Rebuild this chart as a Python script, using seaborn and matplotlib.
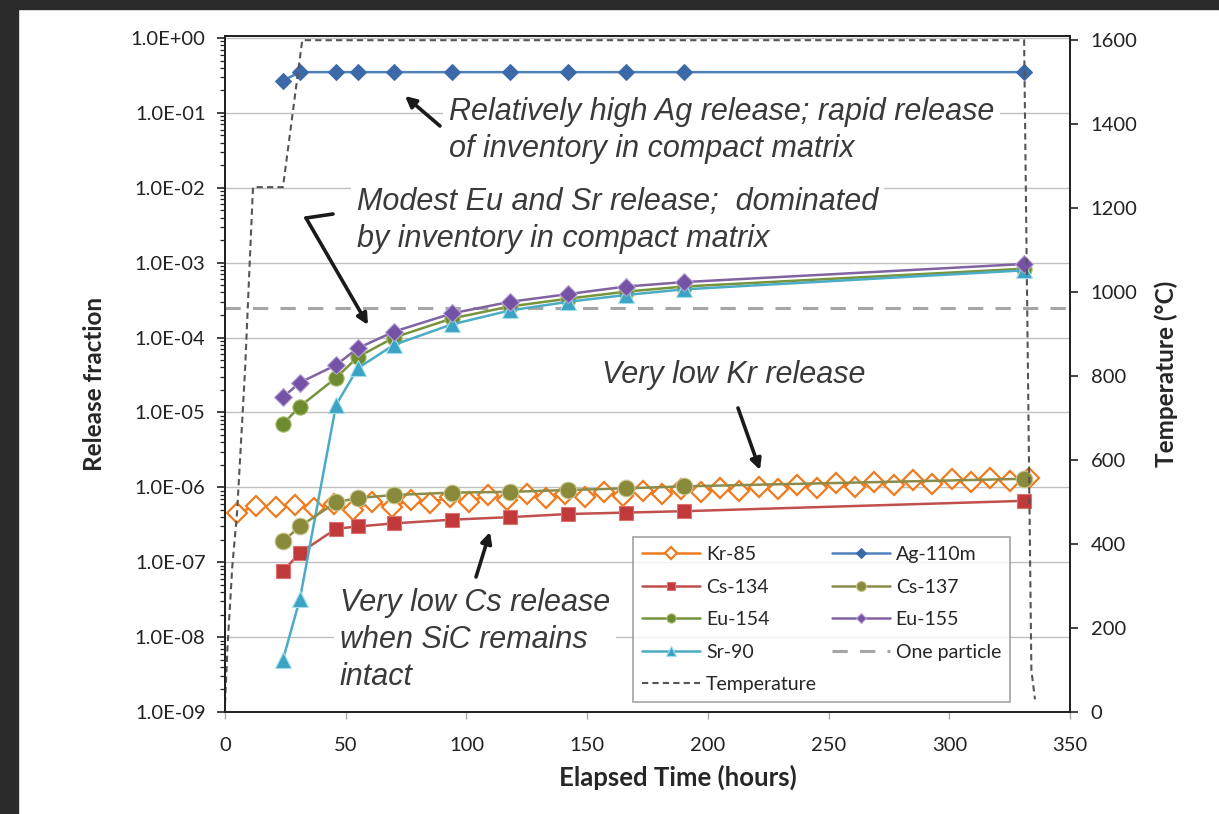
import numpy as np
import matplotlib
matplotlib.use("Agg")
import matplotlib.pyplot as plt
import seaborn as sns
from matplotlib.ticker import FuncFormatter, LogLocator, NullFormatter
from matplotlib.patches import Rectangle

# sample times (hours) for the gamma-counted isotopes
sample_t = [24, 31, 46, 55, 70, 94, 118, 142, 166, 190, 331]

ag110m = [2.7e-1, 3.5e-1, 3.5e-1, 3.5e-1, 3.5e-1, 3.5e-1, 3.5e-1, 3.5e-1, 3.5e-1, 3.5e-1, 3.5e-1]
cs134 = [7.6e-8, 1.33e-7, 2.8e-7, 3.0e-7, 3.3e-7, 3.7e-7, 4.0e-7, 4.4e-7, 4.6e-7, 4.8e-7, 6.6e-7]
cs137 = [1.9e-7, 3.0e-7, 6.3e-7, 7.2e-7, 7.9e-7, 8.5e-7, 8.7e-7, 9.2e-7, 9.7e-7, 1.03e-6, 1.3e-6]
eu154 = [7.0e-6, 1.2e-5, 2.9e-5, 5.5e-5, 1.0e-4, 1.8e-4, 2.6e-4, 3.3e-4, 4.1e-4, 4.8e-4, 8.3e-4]
eu155 = [1.6e-5, 2.5e-5, 4.3e-5, 7.2e-5, 1.2e-4, 2.1e-4, 3.0e-4, 3.8e-4, 4.8e-4, 5.5e-4, 9.6e-4]
sr90 = [5.0e-9, 3.2e-8, 1.26e-5, 3.9e-5, 8.0e-5, 1.5e-4, 2.3e-4, 3.0e-4, 3.7e-4, 4.4e-4, 7.9e-4]

# Kr-85 measured on-line every ~8 h
kr_t = [5, 13, 21, 29, 37, 45, 53, 61, 69, 77, 85, 93, 101, 109, 117, 125, 133, 141,
        149, 157, 165, 173, 181, 189, 197, 205, 213, 221, 229, 237, 245, 253, 261, 269,
        277, 285, 293, 301, 309, 317, 325, 333]
kr85 = [4.55e-7, 5.65e-7, 5.47e-7, 5.82e-7, 5.31e-7, 6.0e-7, 4.99e-7, 6.38e-7, 5.47e-7,
        6.79e-7, 6.19e-7, 7.45e-7, 6.38e-7, 7.92e-7, 6.79e-7, 8.17e-7, 7.22e-7, 8.17e-7,
        7.45e-7, 8.69e-7, 7.68e-7, 8.95e-7, 8.17e-7, 9.52e-7, 8.69e-7, 9.82e-7, 8.95e-7,
        1.01e-6, 9.52e-7, 1.08e-6, 9.82e-7, 1.15e-6, 1.01e-6, 1.18e-6, 1.08e-6, 1.26e-6,
        1.11e-6, 1.29e-6, 1.18e-6, 1.34e-6, 1.22e-6, 1.34e-6]

one_particle = 2.5e-4

temp_t = [0, 1, 3, 5, 8.3, 11.6, 24, 32, 331, 334, 335.5]
temp_c = [20, 150, 345, 475, 814, 1250, 1250, 1600, 1600, 100, 30]

W, H = 1219, 814
fig = plt.figure(figsize=(W / 100, H / 100), dpi=100)
sns.set_style("white")
plt.rcParams['font.family'] = ['Lato', 'DejaVu Sans']

ax = fig.add_axes([225 / W, 1 - 712 / H, (1070 - 225) / W, (712 - 36) / H])
ax2 = ax.twinx()

lw = 1.8
sns.lineplot(x=kr_t, y=kr85, ax=ax, color="#F07B1E", lw=lw, marker="D", markersize=10,
             markerfacecolor="white", markeredgecolor="#F07B1E", markeredgewidth=1.6,
             label="Kr-85", estimator=None, sort=False, zorder=4)
sns.lineplot(x=sample_t, y=cs134, ax=ax, color="#C0504D", lw=lw, marker="s", markersize=10,
             markerfacecolor="#C0393B", markeredgecolor="#E07070", markeredgewidth=0.8,
             label="Cs-134", estimator=None, sort=False, zorder=5)
sns.lineplot(x=sample_t, y=eu154, ax=ax, color="#77933C", lw=lw, marker="o", markersize=11,
             markerfacecolor="#6E8B30", markeredgecolor="#A8C070", markeredgewidth=0.8,
             label="Eu-154", estimator=None, sort=False, zorder=5)
sns.lineplot(x=sample_t, y=sr90, ax=ax, color="#4BACC6", lw=lw, marker="^", markersize=11,
             markerfacecolor="#3BA3C4", markeredgecolor="#A6DDEB", markeredgewidth=0.8,
             label="Sr-90", estimator=None, sort=False, zorder=5)
sns.lineplot(x=sample_t, y=ag110m, ax=ax, color="#4F81BD", lw=lw, marker="D", markersize=8,
             markerfacecolor="#3C69A8", markeredgecolor="#3C69A8",
             label="Ag-110m", estimator=None, sort=False, zorder=5)
sns.lineplot(x=sample_t, y=cs137, ax=ax, color="#8C8C4A", lw=lw, marker="o", markersize=12,
             markerfacecolor="#8A8A3C", markeredgecolor="#C8C890", markeredgewidth=0.8,
             label="Cs-137", estimator=None, sort=False, zorder=6)
sns.lineplot(x=sample_t, y=eu155, ax=ax, color="#8064A2", lw=lw, marker="D", markersize=9,
             markerfacecolor="#7452A6", markeredgecolor="#B7A4D0", markeredgewidth=0.8,
             label="Eu-155", estimator=None, sort=False, zorder=5)
ax.axhline(one_particle, color="#A6A6A6", lw=2.2, ls=(0, (5, 4)), label="One particle", zorder=3)

sns.lineplot(x=temp_t, y=temp_c, ax=ax2, color="#555555", lw=1.5, label="Temperature",
             estimator=None, sort=False)
ax2.get_lines()[-1].set_linestyle((0, (3, 2)))

for a in (ax, ax2):
    if a.get_legend() is not None:
        a.get_legend().remove()

ax.set_yscale("log")
ax.set_ylim(1e-9, 1.0e0 * 10 ** (2 / 74.9))
ax.set_xlim(0, 350)
ax2.set_ylim(0, 1610)
ax.set_xticks(range(0, 351, 50))
ax2.set_yticks(range(0, 1601, 200))
ax.yaxis.set_major_locator(LogLocator(base=10, numticks=12))
ax.yaxis.set_minor_locator(LogLocator(base=10, subs=np.arange(2, 10), numticks=12))
ax.yaxis.set_minor_formatter(NullFormatter())
ax.yaxis.set_major_formatter(FuncFormatter(lambda v, p: f"{v:.1E}"))
ax.grid(axis="y", which="major", color="#C0C0C0", lw=1.0)
ax.grid(axis="x", visible=False)
ax.set_axisbelow(True)

tick_kw = dict(labelsize=14.5, colors="#222222", direction="out")
ax.tick_params(axis="y", which="major", length=6, width=1.2, pad=8, left=True, **tick_kw)
ax.tick_params(axis="y", which="minor", length=3.5, width=0.9, left=True, color="#222222")
ax.tick_params(axis="x", length=5, width=1, pad=13, bottom=True, color="#aaaaaa",
               labelsize=14.5, labelcolor="#222222")
ax2.tick_params(axis="y", length=6, width=1.2, pad=9, right=True, **tick_kw)

for a in (ax, ax2):
    for s in a.spines.values():
        s.set_color("#222222")
        s.set_linewidth(1.4)
ax.spines["bottom"].set_color("#888888")

ax.set_ylabel("Release fraction", fontsize=17.5, fontweight="bold")
ax.set_xlabel("Elapsed Time (hours)", fontsize=18.5, fontweight="bold")
ax2.set_ylabel("Temperature (\u00b0C)", fontsize=17.5, fontweight="bold", labelpad=12)
ax.yaxis.set_label_coords((106 - 225) / 845, (712 - 384) / 676)
ax.xaxis.set_label_coords((678 - 225) / 845, -(765 - 712) / 676)

# annotations
ann = dict(fontsize=22, style="italic", color="#3a3a3a", family=["Liberation Sans", "DejaVu Sans"],
           ha="left", va="top", linespacing=1.3,
           bbox=dict(boxstyle="square,pad=0.2", fc="white", ec="none"))
arrow = dict(arrowstyle="-|>", color="#1a1a1a", lw=2.6, mutation_scale=16, shrinkA=0, shrinkB=0)


def px(x, y):
    # convert reference pixel position into data coordinates of ax
    return ax.transData.inverted().transform(fig.transFigure.transform((x / W, 1 - y / H)))


ax.annotate("", xy=px(405, 96), xytext=px(440, 126), arrowprops=arrow, zorder=8)
ax.text(*px(449, 97), "Relatively high Ag release; rapid release\nof inventory in compact matrix",
        zorder=2, **ann)

ax.annotate("", xy=px(368, 325), xytext=px(306, 218), arrowprops=arrow, zorder=8)
ax.plot(*zip(px(333, 214), px(306, 218)), color="#1a1a1a", lw=2.6, zorder=8)
ax.text(*px(357, 187), "Modest Eu and Sr release;  dominated\nby inventory in compact matrix",
        zorder=2, **ann)

ax.text(*px(602, 360), "Very low Kr release", zorder=2, **ann)
ax.annotate("", xy=px(760, 470), xytext=px(738, 408), arrowprops=arrow, zorder=8)

ax.text(*px(340, 588), "Very low Cs release\nwhen SiC remains\nintact", zorder=2, **ann)
ax.annotate("", xy=px(490, 532), xytext=px(476, 577), arrowprops=arrow, zorder=8)

# legend: two columns, Temperature at the end of the first one
h1, l1 = ax.get_legend_handles_labels()
h2, l2 = ax2.get_legend_handles_labels()
hd = dict(zip(l1 + l2, h1 + h2))
order = ["Kr-85", "Cs-134", "Eu-154", "Sr-90", "Temperature",
         "Ag-110m", "Cs-137", "Eu-155", "One particle"]
leg = ax2.legend([hd[k] for k in order], order, ncol=2, loc="lower left",
                 bbox_to_anchor=((633 - 225) / 845, (712 - 702) / 676),
                 fontsize=14, frameon=True, fancybox=False, handlelength=3.0,
                 handletextpad=0.3, columnspacing=0.75, labelspacing=0.8,
                 borderpad=0.45, markerscale=0.6, borderaxespad=0)
leg.get_frame().set_edgecolor("#8c8c8c")
leg.get_frame().set_linewidth(1.2)
leg.set_zorder(20)

# dark screenshot borders
fig.add_artist(Rectangle((0, 0), 18 / W, 1, transform=fig.transFigure, color="#2b2b2b", zorder=-1))
fig.add_artist(Rectangle((0, 1 - 9 / H), 1, 9 / H, transform=fig.transFigure, color="#2b2b2b", zorder=-1))

fig.savefig("out.png", dpi=100)
